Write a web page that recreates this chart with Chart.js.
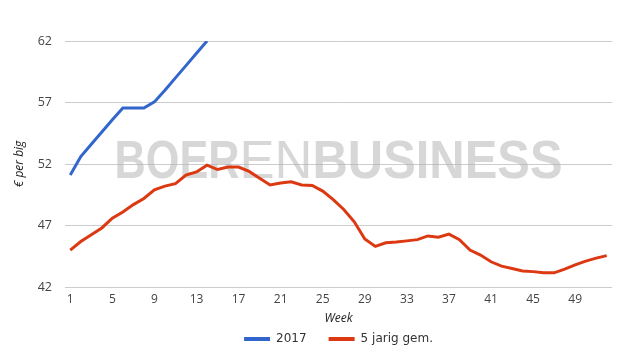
<!DOCTYPE html>
<html>
<head>
<meta charset="utf-8">
<script src="https://cdn.jsdelivr.net/npm/chart.js@4"></script>
<style>
  html, body { margin: 0; padding: 0; background: #fff; }
  #wrap { width: 625px; height: 355px; }
</style>
</head>
<body>
<div id="wrap"><canvas id="myChart"></canvas></div>
<script>
const weeks = [];
for (let w = 1; w <= 52; w++) weeks.push(String(w));

const prices_2017 = [51.1, 52.6, 53.6, 54.6, 55.6, 56.55, 56.55, 56.55, 57.05, 58.0, 59.0, 60.0, 61.0, 62.0];

const avg_5y = [
  45.0, 45.7, 46.25, 46.8, 47.6, 48.1, 48.7, 49.2, 49.9, 50.2,
  50.4, 51.1, 51.35, 51.9, 51.55, 51.75, 51.75, 51.4, 50.85, 50.3,
  50.45, 50.55, 50.3, 50.25, 49.8, 49.1, 48.3, 47.3, 45.9, 45.3,
  45.6, 45.65, 45.75, 45.85, 46.15, 46.05, 46.3, 45.85, 45.0, 44.6,
  44.05, 43.7, 43.5, 43.3, 43.25, 43.15, 43.15, 43.45, 43.8, 44.1,
  44.35, 44.55
];

const y_ticks = [42, 47, 52, 57, 62];

const txt_font = "'Open Sans', 'DejaVu Sans', sans-serif";

// grijze "BOERENBUSINESS" achter de lijnen
const watermark = {
  id: "watermark",
  beforeDatasetsDraw(chart) {
    const ctx = chart.ctx;
    const area = chart.chartArea;
    const parts = [
      ["BOER", "bold 53px 'Liberation Sans', sans-serif", 125],
      ["EN", "normal 53px 'Liberation Sans', sans-serif", 73],
      ["BUSINESS", "bold 53px 'Liberation Sans', sans-serif", 250]
    ];
    let x = (area.left + area.right) / 2 - 224;
    const base = area.top + 137;
    ctx.save();
    ctx.fillStyle = "rgba(175,175,175,0.5)";
    ctx.textBaseline = "alphabetic";
    parts.forEach(([t, f, target]) => {
      ctx.font = f;
      const w = ctx.measureText(t).width;
      ctx.save();
      ctx.translate(x, base);
      ctx.scale(target / w, 1);
      ctx.fillText(t, 0, 0);
      ctx.restore();
      x += target;
    });
    ctx.restore();
  }
};

// legenda centreren onder het plotvlak i.p.v. onder het hele canvas
const legendUnderPlot = {
  id: "legendUnderPlot",
  afterLayout(chart) {
    if (!chart.legend) return;
    chart.legend.left = chart.chartArea.left;
    chart.legend.right = chart.chartArea.right;
  }
};

const config = {
  type: "line",
  data: {
    labels: weeks,
    datasets: [
      {
        label: "2017",
        data: prices_2017,
        borderColor: "#3366cc",
        backgroundColor: "#3366cc",
        borderWidth: 3,
        pointRadius: 0,
        tension: 0
      },
      {
        label: "5 jarig gem.",
        data: avg_5y,
        borderColor: "#dc3912",
        backgroundColor: "#dc3912",
        borderWidth: 3,
        pointRadius: 0,
        tension: 0
      }
    ]
  },
  options: {
    responsive: true,
    maintainAspectRatio: false,
    animation: false,
    layout: { padding: { top: 41, right: 13, left: 0, bottom: 0 } },
    plugins: {
      legend: {
        position: "bottom",
        labels: {
          boxWidth: 26,
          boxHeight: 4,
          padding: 22,
          color: "#333",
          font: { family: "'DejaVu Sans', sans-serif", size: 12 },
          generateLabels: (chart) =>
            Chart.defaults.plugins.legend.labels.generateLabels(chart).map(l => ({ ...l, lineWidth: 0 }))
        }
      },
      tooltip: { enabled: false }
    },
    scales: {
      x: {
        offset: true,
        grid: { display: false, drawTicks: false },
        border: { display: false },
        ticks: {
          autoSkip: false,
          maxRotation: 0,
          color: "#444",
          padding: 5,
          font: { family: txt_font, size: 12 },
          callback: function (v, i) { return i % 4 === 0 ? weeks[i] : ""; }
        },
        title: {
          display: true,
          text: "Week",
          color: "#222",
          padding: { top: 0, bottom: -15 },
          font: { family: txt_font, size: 12, style: "italic" }
        },
        afterFit: function (scale) { scale.height = 24; }
      },
      y: {
        min: 42,
        max: 62,
        grid: { color: "#cccccc", drawTicks: false },
        border: { display: false },
        afterBuildTicks: function (scale) { scale.ticks = y_ticks.map(v => ({ value: v })); },
        ticks: {
          color: "#444",
          padding: 13,
          font: { family: txt_font, size: 12.5 }
        },
        title: {
          display: true,
          text: "€ per big",
          color: "#222",
          padding: { top: 12, bottom: 0 },
          font: { family: txt_font, size: 12, style: "italic" }
        },
        afterFit: function (scale) { scale.width = 65; }
      }
    }
  },
  plugins: [watermark, legendUnderPlot]
};

var myChart = new Chart(document.getElementById("myChart"), config);
</script>
</body>
</html>
